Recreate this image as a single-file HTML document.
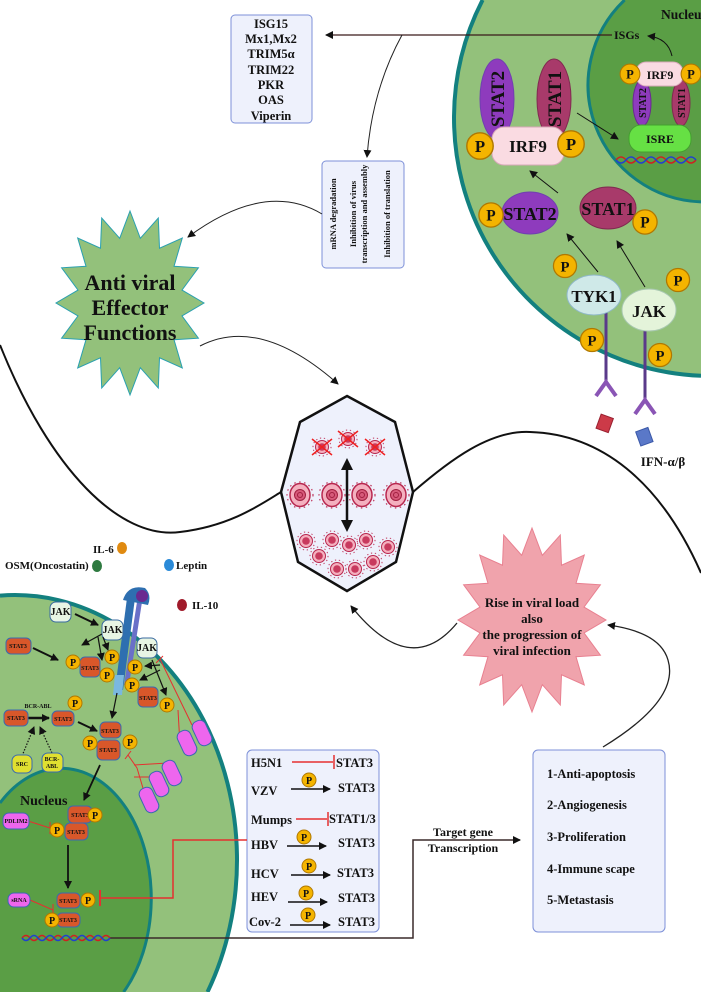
<!DOCTYPE html>
<html><head><meta charset="utf-8"><style>
html,body{margin:0;padding:0;background:#fff;width:701px;height:992px;overflow:hidden}
svg{display:block}
text{font-family:"Liberation Serif",serif;font-weight:bold;fill:#111}
</style></head><body>
<svg width="701" height="992" viewBox="0 0 701 992" xmlns="http://www.w3.org/2000/svg" style="overflow:hidden">
<defs>
<marker id="ah" markerWidth="8" markerHeight="8" refX="7" refY="4" orient="auto" markerUnits="userSpaceOnUse"><path d="M0,0 L8,4 L0,8 z" fill="#111"/></marker>
<g id="vb"><circle r="13" fill="none" stroke="#c0395f" stroke-width="1.2" stroke-dasharray="1.5 3.5"/><ellipse rx="10" ry="11.5" fill="#f4b0bf" stroke="#b8284f" stroke-width="1.5"/><circle r="5.5" fill="#d75a7a" stroke="#a02040"/><circle r="2.5" fill="none" stroke="#a02040"/></g>
<g id="vs"><circle r="9" fill="none" stroke="#c0395f" stroke-width="1" stroke-dasharray="1.3 2.7"/><circle r="6.5" fill="#f4b0bf" stroke="#b8284f"/><circle r="3.8" fill="#c83a5e"/></g>
<g id="vx"><use href="#vs"/><path d="M-10,-8 L10,8 M-10,8 L10,-8" stroke="#f02020" stroke-width="1.5"/></g>
<g id="P"><circle r="11" fill="#f4b400" stroke="#b07800" stroke-width="1.2"/><text y="5" text-anchor="middle" font-size="14">P</text></g>
<g id="p"><circle r="7" fill="#f4b400" stroke="#b07800"/><text y="4" text-anchor="middle" font-size="10">P</text></g>
</defs>

<!-- top right cell -->
<path d="M482.6,0 A258,258 0 0 0 701,375.8 L701,0 Z" fill="#93c17b"/>
<path d="M482.6,0 A258,258 0 0 0 701,375.8" fill="none" stroke="#13807f" stroke-width="4"/>
<path d="M624.6,0 A117,117 0 0 0 701,201.9 L701,0 Z" fill="#5a9e45"/>
<path d="M624.6,0 A117,117 0 0 0 701,201.9" fill="none" stroke="#13807f" stroke-width="3"/>
<text x="661" y="19" font-size="13.5">Nucleus</text>
<text x="614" y="39" font-size="12">ISGs</text>
<path d="M672,56 Q668,38 648,36" fill="none" stroke="#111" marker-end="url(#ah)"/>
<ellipse cx="642" cy="103" rx="9" ry="23" fill="#8e3bbd" stroke="#6a2a90"/>
<ellipse cx="681" cy="103" rx="9" ry="23" fill="#a83a6a" stroke="#802a50"/>
<text transform="translate(646,103) rotate(-90)" text-anchor="middle" font-size="10">STAT2</text>
<text transform="translate(685,103) rotate(-90)" text-anchor="middle" font-size="10">STAT1</text>
<rect x="636" y="62" width="47" height="24" rx="10" fill="#fadbe2" stroke="#d8a8b8"/>
<text x="660" y="79" text-anchor="middle" font-size="12">IRF9</text>
<g transform="translate(630,74) scale(.9)"><use href="#P"/></g>
<g transform="translate(691,74) scale(.9)"><use href="#P"/></g>
<rect x="629" y="125" width="62" height="27" rx="12" fill="#66e044" stroke="#44a030"/>
<text x="660" y="143" text-anchor="middle" font-size="12">ISRE</text>
<path d="M616,160 q5,-6 10,0 t10,0 t10,0 t10,0 t10,0 t10,0 t10,0 t10,0" fill="none" stroke="#d02020" stroke-width="1.5"/>
<path d="M616,160 q5,6 10,0 t10,0 t10,0 t10,0 t10,0 t10,0 t10,0 t10,0" fill="none" stroke="#2040d0" stroke-width="1.5"/>
<ellipse cx="497" cy="99" rx="17" ry="40" fill="#8e3bbd" stroke="#7040b0"/>
<ellipse cx="554" cy="99" rx="17" ry="40" fill="#a83a6a" stroke="#802a50"/>
<text transform="translate(504,99) rotate(-90)" text-anchor="middle" font-size="19">STAT2</text>
<text transform="translate(561,99) rotate(-90)" text-anchor="middle" font-size="19">STAT1</text>
<rect x="492" y="127" width="72" height="38" rx="12" fill="#fadbe2" stroke="#d8a8b8"/>
<text x="528" y="152" text-anchor="middle" font-size="17">IRF9</text>
<g transform="translate(480,146) scale(1.2)"><use href="#P"/></g>
<g transform="translate(571,144) scale(1.2)"><use href="#P"/></g>
<path d="M577,113 L618,139" stroke="#111" marker-end="url(#ah)"/>
<ellipse cx="530" cy="213" rx="28" ry="21" fill="#8e3bbd" stroke="#7040b0"/>
<text x="530" y="220" text-anchor="middle" font-size="18">STAT2</text>
<g transform="translate(491,215) scale(1.1)"><use href="#P"/></g>
<ellipse cx="608" cy="208" rx="28" ry="21" fill="#a83a6a" stroke="#802a50"/>
<text x="608" y="215" text-anchor="middle" font-size="18">STAT1</text>
<g transform="translate(645,222) scale(1.1)"><use href="#P"/></g>
<path d="M558,193 L530,171" stroke="#111" marker-end="url(#ah)"/>
<path d="M598,272 L567,234" stroke="#111" marker-end="url(#ah)"/>
<path d="M645,287 L617,241" stroke="#111" marker-end="url(#ah)"/>
<line x1="606" y1="310" x2="606" y2="385" stroke="#5a3a8a" stroke-width="3"/>
<line x1="645" y1="330" x2="645" y2="402" stroke="#5a3a8a" stroke-width="3"/>
<path d="M596,396 L606,382 L616,396" fill="none" stroke="#8a55b5" stroke-width="4"/>
<path d="M635,414 L645,400 L655,414" fill="none" stroke="#8a55b5" stroke-width="4"/>
<g transform="translate(565,266) scale(1.05)"><use href="#P"/></g>
<ellipse cx="594" cy="295" rx="27" ry="20" fill="#cfe9e8" stroke="#8fb8c8"/>
<text x="594" y="302" text-anchor="middle" font-size="17">TYK1</text>
<ellipse cx="649" cy="310" rx="27" ry="21" fill="#e4f4da" stroke="#a8c8b0"/>
<text x="649" y="317" text-anchor="middle" font-size="17">JAK</text>
<g transform="translate(678,280) scale(1.05)"><use href="#P"/></g>
<g transform="translate(592,340) scale(1.05)"><use href="#P"/></g>
<g transform="translate(660,355) scale(1.05)"><use href="#P"/></g>
<rect x="598" y="416" width="13" height="15" transform="rotate(20 605 424)" fill="#cc3a48" stroke="#992030"/>
<rect x="638" y="429" width="13" height="15" transform="rotate(-20 645 437)" fill="#5a78c8" stroke="#3a58a8"/>
<text x="663" y="466" text-anchor="middle" font-size="13">IFN-α/β</text>

<line x1="612" y1="35" x2="326" y2="35" stroke="#3a1a1a" stroke-width="1.3" marker-end="url(#ah)"/>
<rect x="231" y="15" width="81" height="108" rx="4" fill="#eef1fc" stroke="#7d90d8"/>
<g font-size="12.5"><text x="271" y="28" text-anchor="middle">ISG15</text><text x="271" y="43" text-anchor="middle">Mx1,Mx2</text><text x="271" y="58" text-anchor="middle">TRIM5α</text><text x="271" y="74" text-anchor="middle">TRIM22</text><text x="271" y="89" text-anchor="middle">PKR</text><text x="271" y="104" text-anchor="middle">OAS</text><text x="271" y="120" text-anchor="middle">Viperin</text></g>
<path d="M402,35 Q372,90 367,157" fill="none" stroke="#222" marker-end="url(#ah)"/>
<rect x="322" y="161" width="82" height="107" rx="4" fill="#eef1fc" stroke="#7d90d8"/>
<g font-size="8.5"><text transform="translate(336,214) rotate(-90)" text-anchor="middle">mRNA degradation</text><text transform="translate(356,214) rotate(-90)" text-anchor="middle">Inhibition of virus</text><text transform="translate(367,214) rotate(-90)" text-anchor="middle">transcription and assembly</text><text transform="translate(390,214) rotate(-90)" text-anchor="middle">Inhibition of translation</text></g>
<path d="M322,214 Q265,180 188,237" fill="none" stroke="#222" marker-end="url(#ah)"/>

<polygon fill="#93c17b" stroke="#2aa0b0" stroke-width="1" points="130,211 140.3,238.3 158.3,218 159.5,248.2 182.3,238 174,266.3 198.4,267.8 182,290.1 204,303 182,315.9 198.4,338.2 174,339.7 182.3,368 159.5,357.8 158.3,388 140.3,367.7 130,395 119.7,367.7 101.7,388 100.5,357.8 77.7,368 86,339.7 61.6,338.2 78,315.9 56,303 78,290.1 61.6,267.8 86,266.3 77.7,238 100.5,248.2 101.7,218 119.7,238.3"/>
<g font-size="22"><text x="130" y="290" text-anchor="middle">Anti viral</text><text x="130" y="315" text-anchor="middle">Effector</text><text x="130" y="340" text-anchor="middle">Functions</text></g>
<path d="M200,346 Q260,315 338,384" fill="none" stroke="#222" marker-end="url(#ah)"/>

<path d="M0,345 C50,470 120,540 180,532 C230,526 260,505 281,492" fill="none" stroke="#111" stroke-width="2"/>
<path d="M413,492 C450,460 490,430 530,432 C600,434 660,480 701,573" fill="none" stroke="#111" stroke-width="2"/>

<polygon points="347,396 395,422 413,492 396,562 347,591 298,562 281,492 300,422" fill="#eef1fc" stroke="#111" stroke-width="2.5"/>
<use href="#vx" x="322" y="447"/><use href="#vx" x="348" y="439"/><use href="#vx" x="375" y="447"/>
<use href="#vb" x="300" y="495"/><use href="#vb" x="332" y="495"/><use href="#vb" x="362" y="495"/><use href="#vb" x="396" y="495"/>
<use href="#vs" x="306" y="541"/><use href="#vs" x="332" y="540"/><use href="#vs" x="349" y="545"/><use href="#vs" x="366" y="540"/><use href="#vs" x="388" y="547"/>
<use href="#vs" x="319" y="556"/><use href="#vs" x="337" y="569"/><use href="#vs" x="355" y="569"/><use href="#vs" x="373" y="562"/>
<line x1="347" y1="462" x2="347" y2="528" stroke="#111" stroke-width="2.5"/>
<path d="M341,470 L347,458 L353,470 z M341,520 L347,532 L353,520 z" fill="#111"/>

<polygon fill="#f0a3ac" stroke="#e88090" stroke-width="1" points="532,528 542.3,555.3 560.3,535 561.5,565.2 584.3,555 576,583.3 600.4,584.8 584,607.1 606,620 584,632.9 600.4,655.2 576,656.7 584.3,685 561.5,674.8 560.3,705 542.3,684.7 532,712 521.7,684.7 503.7,705 502.5,674.8 479.7,685 488,656.7 463.6,655.2 480,632.9 458,620 480,607.1 463.6,584.8 488,583.3 479.7,555 502.5,565.2 503.7,535 521.7,555.3"/>
<g font-size="13"><text x="532" y="607" text-anchor="middle">Rise in viral load</text><text x="532" y="623" text-anchor="middle">also</text><text x="532" y="639" text-anchor="middle">the progression of</text><text x="532" y="655" text-anchor="middle">viral infection</text></g>
<path d="M457,623 Q410,680 351,606" fill="none" stroke="#222" stroke-width="1.3" marker-end="url(#ah)"/>
<path d="M603,747 Q680,700 668,660 Q660,632 608,625" fill="none" stroke="#222" stroke-width="1.3" marker-end="url(#ah)"/>

<rect x="247" y="750" width="132" height="182" rx="5" fill="#eef1fc" stroke="#7d90d8"/>
<g font-size="12.5">
<text x="251" y="767">H5N1</text><line x1="292" y1="762" x2="333" y2="762" stroke="#e53030" stroke-width="1.5"/><line x1="334" y1="755" x2="334" y2="769" stroke="#e53030" stroke-width="1.5"/><text x="336" y="767">STAT3</text>
<text x="251" y="795">VZV</text><line x1="291" y1="789" x2="330" y2="789" stroke="#111" stroke-width="1.5" marker-end="url(#ah)"/><use href="#p" x="309" y="780"/><text x="338" y="792">STAT3</text>
<text x="251" y="824">Mumps</text><line x1="296" y1="819" x2="327" y2="819" stroke="#e53030" stroke-width="1.5"/><line x1="328" y1="812" x2="328" y2="826" stroke="#e53030" stroke-width="1.5"/><text x="329" y="823">STAT1/3</text>
<text x="251" y="849">HBV</text><line x1="287" y1="846" x2="326" y2="846" stroke="#111" stroke-width="1.5" marker-end="url(#ah)"/><use href="#p" x="304" y="837"/><text x="338" y="847">STAT3</text>
<text x="251" y="878">HCV</text><line x1="291" y1="875" x2="330" y2="875" stroke="#111" stroke-width="1.5" marker-end="url(#ah)"/><use href="#p" x="309" y="866"/><text x="337" y="877">STAT3</text>
<text x="251" y="901">HEV</text><line x1="288" y1="902" x2="327" y2="902" stroke="#111" stroke-width="1.5" marker-end="url(#ah)"/><use href="#p" x="306" y="893"/><text x="338" y="902">STAT3</text>
<text x="249" y="926">Cov-2</text><line x1="290" y1="925" x2="330" y2="925" stroke="#111" stroke-width="1.5" marker-end="url(#ah)"/><use href="#p" x="308" y="915"/><text x="338" y="926">STAT3</text>
</g>
<rect x="533" y="750" width="132" height="182" rx="5" fill="#eef1fc" stroke="#7d90d8"/>
<g font-size="12.5"><text x="547" y="778">1-Anti-apoptosis</text><text x="547" y="809">2-Angiogenesis</text><text x="547" y="841">3-Proliferation</text><text x="547" y="873">4-Immune scape</text><text x="547" y="904">5-Metastasis</text></g>
<text x="463" y="836" text-anchor="middle" font-size="12">Target gene</text>
<text x="463" y="852" text-anchor="middle" font-size="12">Transcription</text>

<!-- bottom-left cell -->
<path d="M0,595.6 A222,265 0 0 1 207.5,992 L0,992 Z" fill="#93c17b"/>
<path d="M0,595.6 A222,265 0 0 1 207.5,992" fill="none" stroke="#13807f" stroke-width="4"/>
<path d="M0,803 A90,130 0 0 1 123.6,992 L0,992 Z" fill="#5a9e45"/>
<path d="M0,803 A90,130 0 0 1 123.6,992" fill="none" stroke="#13807f" stroke-width="3"/>
<text x="20" y="805" font-size="14">Nucleus</text>
<path d="M110,938 L413,938 L413,840 L520,840" fill="none" stroke="#3a2a2a" stroke-width="1.5" marker-end="url(#ah)"/>
<path d="M22,938 q4,-5 8,0 t8,0 t8,0 t8,0 t8,0 t8,0 t8,0 t8,0 t8,0 t8,0 t8,0" fill="none" stroke="#d02020" stroke-width="1.5"/>
<path d="M22,938 q4,5 8,0 t8,0 t8,0 t8,0 t8,0 t8,0 t8,0 t8,0 t8,0 t8,0 t8,0" fill="none" stroke="#2040d0" stroke-width="1.5"/>
<path d="M247,840 L173,840 L173,898 L101,898" fill="none" stroke="#e53030" stroke-width="1.5"/><line x1="100" y1="890" x2="100" y2="906" stroke="#e53030" stroke-width="2"/>
<g font-size="11"><text x="93" y="553">IL-6</text><text x="5" y="569">OSM(Oncostatin)</text><text x="176" y="569">Leptin</text><text x="192" y="609">IL-10</text></g>
<ellipse cx="122" cy="548" rx="5" ry="6" fill="#e08a10"/><ellipse cx="97" cy="566" rx="5" ry="6" fill="#2e7a40"/><ellipse cx="169" cy="565" rx="5" ry="6" fill="#2a8ad8"/><ellipse cx="182" cy="605" rx="5" ry="6" fill="#a01a2a"/>
<polygon points="127,598 135,598 123,690 115,690" fill="#2e6fb0"/>
<polygon points="137,602 142,602 129,685 124,685" fill="#6a70c8"/>
<polygon points="115,675 124,675 122,695 113,695" fill="#7ab8e0"/>
<path d="M123,600 Q128,584 145,588 Q152,595 148,605 L138,603 Z" fill="#2e6fb0"/>
<circle cx="142" cy="596" r="6" fill="#6a2a90"/>
<g font-size="10"><rect x="50" y="602" width="21" height="20" rx="6" fill="#e8f5e4" stroke="#3a6aa0"/><text x="60.5" y="615" text-anchor="middle">JAK</text>
<rect x="102" y="620" width="21" height="20" rx="6" fill="#e8f5e4" stroke="#3a6aa0"/><text x="112.5" y="633" text-anchor="middle">JAK</text>
<rect x="137" y="638" width="20" height="20" rx="6" fill="#e8f5e4" stroke="#3a6aa0"/><text x="147" y="651" text-anchor="middle">JAK</text></g>
<g stroke="#111" fill="none" stroke-width="1.2">
<path d="M75,614 L98,625" stroke-width="2" marker-end="url(#ah)"/>
<path d="M33,648 L58,660" stroke-width="2" marker-end="url(#ah)"/>
<path d="M102,634 L82,645" marker-end="url(#ah)"/><path d="M98,637 L102,660" marker-end="url(#ah)"/><path d="M103,637 L108,650" marker-end="url(#ah)"/>
<path d="M160,665 L145,666" marker-end="url(#ah)"/><path d="M160,670 L140,680" marker-end="url(#ah)"/><path d="M152,660 L166,695" marker-end="url(#ah)"/>
<path d="M117,693 L112,718" marker-end="url(#ah)"/>
<path d="M28,718 L49,718" stroke-width="2.5" marker-end="url(#ah)"/>
<path d="M78,722 L97,731" stroke-width="2" marker-end="url(#ah)"/>
<path d="M100,765 L84,800" stroke-width="1.8" marker-end="url(#ah)"/>
<path d="M68,845 L68,888" stroke-width="1.8" marker-end="url(#ah)"/>
<path d="M22,756 L34,727" stroke-dasharray="1.5 1.5" marker-end="url(#ah)"/><path d="M52,753 L40,727" stroke-dasharray="1.5 1.5" marker-end="url(#ah)"/>
</g>
<g stroke="#e53030" fill="none" stroke-width="1">
<path d="M192,725 L160,659"/><line x1="156" y1="663" x2="163" y2="656"/><path d="M180,745 L178,710"/>
<path d="M168,763 L134,765 M155,777 L134,777 M145,795 L137,768 L128,755"/><line x1="125" y1="759" x2="131" y2="751"/>
<path d="M28,821 L50,828"/><line x1="50" y1="822" x2="50" y2="834"/>
<path d="M30,900 L53,910"/><line x1="53" y1="904" x2="53" y2="916"/>
</g>
<g font-size="6" font-weight="bold">
<g fill="#d9572a" stroke="#3a6ab0"><rect x="6" y="638" width="25" height="16" rx="5"/><rect x="80" y="657" width="20" height="20" rx="5"/><rect x="138" y="687" width="20" height="20" rx="5"/><rect x="4" y="710" width="24" height="16" rx="5"/><rect x="52" y="711" width="22" height="15" rx="5"/><rect x="100" y="722" width="21" height="16" rx="5"/><rect x="97" y="740" width="23" height="20" rx="5"/><rect x="68" y="806" width="24" height="17" rx="5"/><rect x="65" y="823" width="23" height="17" rx="5"/><rect x="57" y="893" width="23" height="15" rx="5"/><rect x="57" y="913" width="23" height="14" rx="5"/></g>
<text x="18" y="648" text-anchor="middle">STAT3</text><text x="90" y="670" text-anchor="middle">STAT3</text><text x="148" y="700" text-anchor="middle">STAT3</text><text x="16" y="720" text-anchor="middle">STAT3</text><text x="63" y="721" text-anchor="middle">STAT3</text><text x="110" y="733" text-anchor="middle">STAT3</text><text x="108" y="752" text-anchor="middle">STAT3</text><text x="80" y="817" text-anchor="middle">STAT3</text><text x="76" y="834" text-anchor="middle">STAT3</text><text x="68" y="903" text-anchor="middle">STAT3</text><text x="68" y="922" text-anchor="middle">STAT3</text>
<text x="38" y="708" text-anchor="middle">BCR-ABL</text>
<g fill="#e0e030" stroke="#3a6ab0"><rect x="12" y="755" width="20" height="18" rx="6"/><rect x="42" y="753" width="21" height="19" rx="6"/></g>
<text x="22" y="766" text-anchor="middle">SRC</text><text x="52" y="761" text-anchor="middle">BCR-</text><text x="52" y="768" text-anchor="middle">ABL</text>
<g fill="#ee66ee" stroke="#3a6ab0"><rect x="195" y="720" width="14" height="26" rx="6" transform="rotate(-25 202 733)"/><rect x="180" y="730" width="14" height="26" rx="6" transform="rotate(-25 187 743)"/><rect x="165" y="760" width="14" height="26" rx="6" transform="rotate(-25 172 773)"/><rect x="152" y="771" width="14" height="26" rx="6" transform="rotate(-25 159 784)"/><rect x="142" y="787" width="14" height="26" rx="6" transform="rotate(-25 149 800)"/><rect x="3" y="813" width="26" height="16" rx="6"/><rect x="8" y="893" width="22" height="14" rx="6"/></g>
<text x="16" y="823" text-anchor="middle">PDLIM2</text><text x="19" y="902" text-anchor="middle">sRNA</text>
</g>
<use href="#p" x="73" y="662"/><use href="#p" x="112" y="657"/><use href="#p" x="107" y="675"/><use href="#p" x="135" y="667"/><use href="#p" x="132" y="685"/><use href="#p" x="167" y="705"/><use href="#p" x="75" y="703"/><use href="#p" x="130" y="742"/><use href="#p" x="90" y="743"/><use href="#p" x="95" y="815"/><use href="#p" x="57" y="830"/><use href="#p" x="88" y="900"/><use href="#p" x="52" y="920"/>
</svg>
</body></html>
